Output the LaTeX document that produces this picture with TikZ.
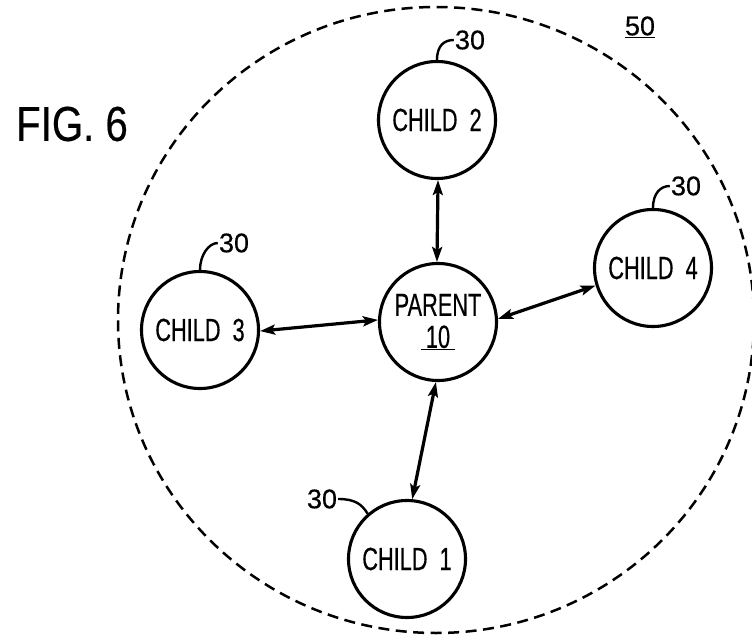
\documentclass[tikz,border=0pt]{standalone}
\usepackage{fontspec}
\setmainfont{Liberation Sans}[FakeBold=0.4]
\newfontfamily\narrowfont{Liberation Sans}[FakeStretch=0.68,FakeBold=0.4]
\newfontfamily\figfont{Liberation Sans}[FakeStretch=0.82,FakeBold=0.4]
\usetikzlibrary{arrows.meta}
\begin{document}
\begin{tikzpicture}[x=1pt,y=-1pt,
  member/.style={circle, draw, line width=3.1pt, minimum size=117pt, inner sep=0pt,
    font=\narrowfont\fontsize{32}{35}\selectfont, align=center},
  link/.style={line width=3.2pt,
    {Stealth[length=15pt,width=10pt,inset=3pt]}-{Stealth[length=15pt,width=10pt,inset=3pt]}},
  lead/.style={line width=2.4pt},
  refnum/.style={inner sep=0pt, font=\fontsize{27}{30}\selectfont}
]
\useasboundingbox (0,0) rectangle (752,636);

% enclosing group boundary
\draw[line width=2.5pt, dash pattern=on 11pt off 6.5pt] (436,320) ellipse [x radius=318, y radius=313];

% figure title and group reference
\node[inner sep=0pt, font=\figfont\fontsize{49}{52}\selectfont] (fig) at (72,124) {FIG. 6};
\node[refnum] (grp) at (640,27) {\underline{50}};

% parent and children
\node[member] (parent) at (438,322) {PARENT\\[-3pt]\underline{\,10\,}};
\node[member] (c2) at (437,120) {CHILD\hspace{12pt}2};
\node[member] (c4) at (653,268) {CHILD\hspace{12pt}4};
\node[member] (c3) at (200,330) {CHILD\hspace{12pt}3};
\node[member] (c1) at (407,559) {CHILD\hspace{12pt}1};

% two-way links
\draw[link] (c2.271) -- (parent.91);
\draw[link] (c3.359) -- (parent.178);
\draw[link] (c4.197) -- (parent.3);
\draw[link] (c1.85) -- (parent.268);

% reference numerals with leaders
\node[refnum] (l2) at (470,40) {30};
\node[refnum] (l4) at (686,186) {30};
\node[refnum] (l3) at (234,243) {30};
\node[refnum] (l1) at (322,499) {30};
\draw[lead] (c2.north) .. controls +(0,-15) and +(-9,0) .. ([xshift=-1pt]l2.west);
\draw[lead] (c4.north) .. controls +(0,-15) and +(-9,0) .. ([xshift=-1pt]l4.west);
\draw[lead] (c3.north) .. controls +(0,-15) and +(-9,0) .. ([xshift=-1pt]l3.west);
\draw[lead] ([xshift=1pt]l1.east) .. controls +(16,0) and +(-6,-10) .. (c1.131);
\end{tikzpicture}
\end{document}
